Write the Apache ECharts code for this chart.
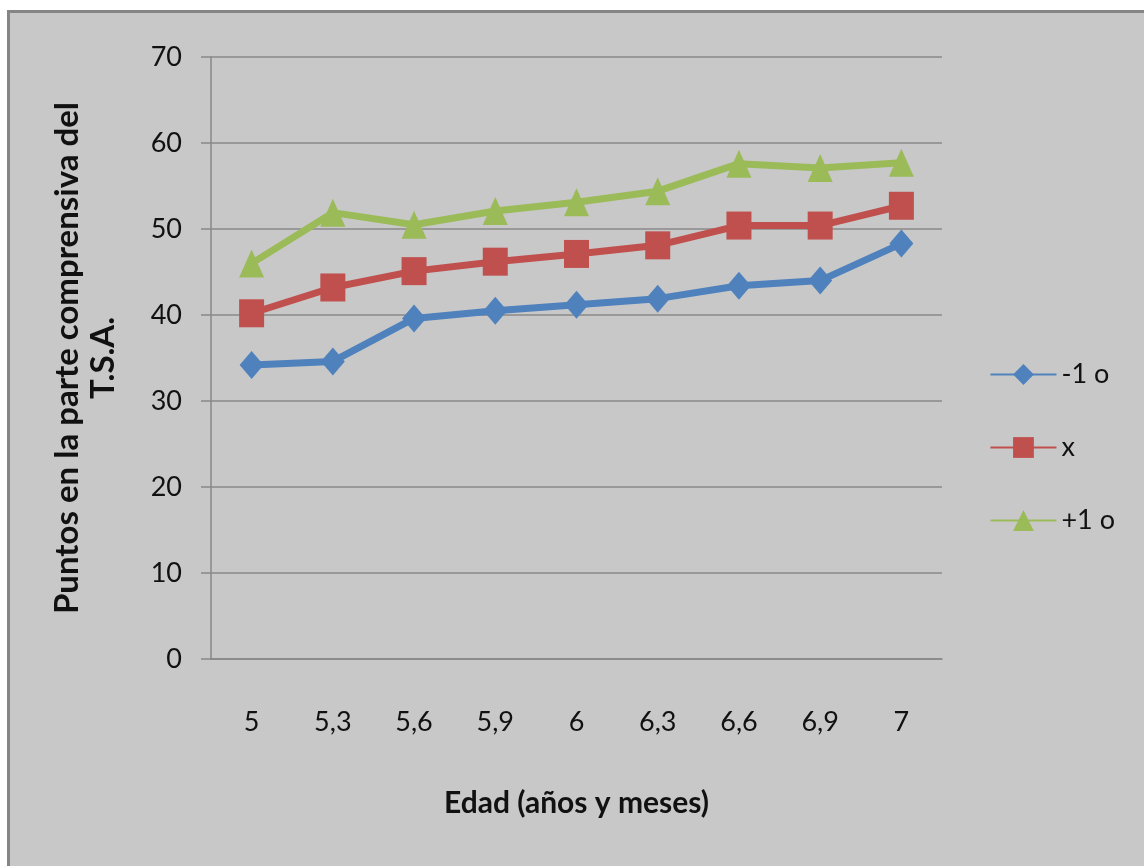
<!DOCTYPE html>
<html>
<head>
<meta charset="utf-8">
<title>Puntos T.S.A.</title>
<script src="https://cdn.jsdelivr.net/npm/echarts@6/dist/echarts.min.js"></script>
<style>
    html, body { margin: 0; padding: 0; background: #ffffff; overflow: hidden; }
    #frame {
        position: absolute; left: 7px; top: 10px; width: 1160px; height: 880px;
        background: #c8c8c8; border-left: 3px solid #858585; border-top: 3px solid #858585;
    }
    #chart { position: absolute; left: 0; top: 0; width: 1144px; height: 866px; }
</style>
</head>
<body>
<div id="frame"></div>
<div id="chart"></div>
<script>
    // categorias (edad en años y meses)
    var edades = ['5', '5,3', '5,6', '5,9', '6', '6,3', '6,6', '6,9', '7'];

    // series
    var menosUno = [34.2, 34.6, 39.6, 40.5, 41.2, 41.9, 43.4, 44.0, 48.3];
    var media = [40.2, 43.2, 45.1, 46.2, 47.1, 48.1, 50.4, 50.4, 52.7];
    var masUno = [46.0, 51.9, 50.5, 52.1, 53.1, 54.4, 57.6, 57.1, 57.7];

    var nombres = ['-1 o', 'x', '+1 o'];
    var colores = ['#4f81bd', '#c0504d', '#9bbb59'];

    var chart = echarts.init(document.getElementById('chart'));

    var fuente = 'Lato, "Liberation Sans", sans-serif';

    function serie(nombre, datos, color, simbolo, tam) {
        return {
            name: nombre,
            type: 'line',
            data: datos,
            symbol: simbolo,
            symbolSize: tam,
            showAllSymbol: true,
            lineStyle: {color: color, width: 7},
            itemStyle: {color: color},
            emphasis: {disabled: true},
            animation: false
        };
    }

    var option = {
        backgroundColor: 'transparent',
        textStyle: {fontFamily: fuente},
        grid: {left: 211, right: 202, top: 57, bottom: 207},
        legend: {
            orient: 'vertical',
            right: 24,
            top: 356,
            itemWidth: 66,
            itemHeight: 26,
            itemGap: 46,
            itemTextGap: 4,
            textStyle: {fontSize: 27, color: '#111', fontFamily: fuente},
            data: nombres
        },
        xAxis: {
            type: 'category',
            data: edades,
            boundaryGap: true,
            axisLine: {lineStyle: {color: '#888', width: 1.5}},
            axisTick: {show: false},
            axisLabel: {fontSize: 27, color: '#111', margin: 50},
            name: 'Edad (años y meses)',
            nameLocation: 'middle',
            nameGap: 129,
            nameTextStyle: {fontSize: 30, fontWeight: 'bold', color: '#111'}
        },
        yAxis: {
            type: 'value',
            min: 0,
            max: 70,
            interval: 10,
            axisLine: {show: true, lineStyle: {color: '#888', width: 1.5}},
            axisTick: {show: true, length: 10, lineStyle: {color: '#888', width: 1.5}},
            axisLabel: {fontSize: 27, color: '#111', margin: 29},
            splitLine: {lineStyle: {color: '#8a8a8a', width: 1.5}},
            name: 'Puntos en la parte comprensiva del\nT.S.A.',
            nameLocation: 'middle',
            nameRotate: 90,
            nameGap: 90,
            nameTextStyle: {fontSize: 33, fontWeight: 'bold', color: '#111', lineHeight: 36}
        },
        series: [
            serie(nombres[0], menosUno, colores[0], 'diamond', [24, 28]),
            serie(nombres[1], media, colores[1], 'rect', [25, 28]),
            serie(nombres[2], masUno, colores[2], 'triangle', [25, 28])
        ]
    };

    chart.setOption(option);
</script>
</body>
</html>
